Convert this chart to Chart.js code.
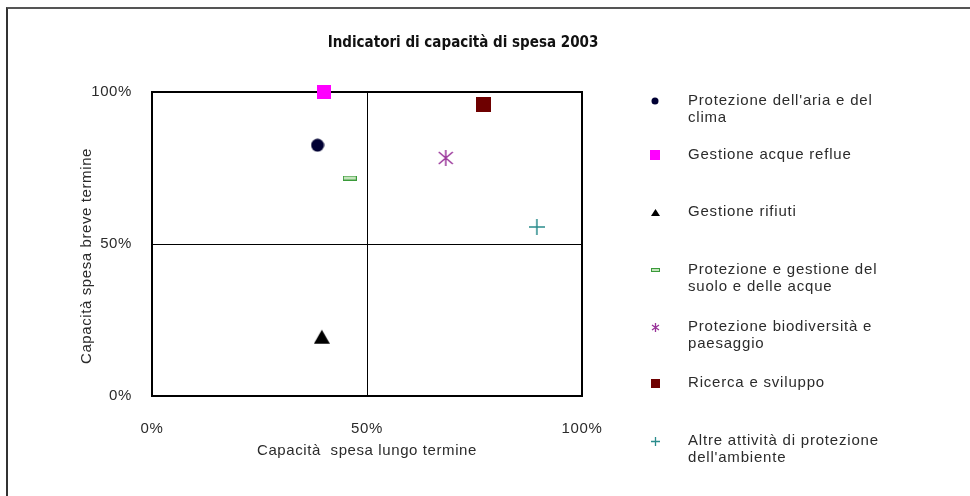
<!DOCTYPE html>
<html>
<head>
<meta charset="utf-8">
<script src="https://cdn.jsdelivr.net/npm/chart.js@4/dist/chart.umd.min.js"></script>
<style>
  body { margin: 0; background: #fff; }
  #wrap { position: relative; width: 970px; height: 496px; }
  #frame { position: absolute; left: 6px; top: 7px; right: 0; bottom: 0;
           border-left: 2px solid #333; border-top: 2px solid #555; pointer-events: none; }
</style>
</head>
<body>
<div id="wrap">
  <canvas id="chart" width="970" height="496"></canvas>
  <div id="frame"></div>
</div>
<script>
// chart data
const chartTitle = 'Indicatori di capacità di spesa 2003';
const seriesNames = [
  "Protezione dell'aria e del\nclima",
  'Gestione acque reflue',
  'Gestione rifiuti',
  'Protezione e gestione del\nsuolo e delle acque',
  'Protezione biodiversità e\npaesaggio',
  'Ricerca e sviluppo',
  'Altre attività di protezione\ndell\'ambiente'
];
const xValues = [0.385, 0.40, 0.395, 0.46, 0.683, 0.77, 0.895];
const yValues = [0.825, 1.00, 0.195, 0.717, 0.783, 0.96, 0.556];
const tickLabels = ['0%', '50%', '100%'];
const xTitle = 'Capacità  spesa lungo termine';
const yTitle = 'Capacità spesa breve termine';

// look of each series
const markerKinds = ['circle', 'square', 'triangle', 'dash', 'star', 'square', 'plus'];
const markerColors = ['#000033', '#ff00ff', '#000000', '#3a9a3a', '#993399', '#6e0000', '#2a8c8c'];
const plotSizes = [14, 14, 16, 14, 16, 15, 16];
const legendSizes = [8, 10, 9, 9, 9, 9, 9];
const legendRowY = [101, 155, 212, 270, 327, 383, 441];

const FONT = '"Liberation Sans", Arial, sans-serif';
const TEXT = '#2b2b2b';

// draws one marker into its own little canvas, so Chart.js can use it as pointStyle
function makeMarker(kind, size, color) {
  const c = document.createElement('canvas');
  const w = size, h = kind === 'dash' ? Math.max(4, Math.round(size / 3)) : size;
  c.width = w; c.height = h;
  const g = c.getContext('2d');
  g.fillStyle = color; g.strokeStyle = color;
  if (kind === 'circle') {
    g.beginPath(); g.arc(w / 2, h / 2, w / 2 - 0.5, 0, Math.PI * 2); g.fill();
  } else if (kind === 'square') {
    g.fillRect(0, 0, w, h);
  } else if (kind === 'triangle') {
    g.beginPath(); g.moveTo(w / 2, 1); g.lineTo(w, h - 1); g.lineTo(0, h - 1); g.closePath(); g.fill();
  } else if (kind === 'dash') {
    g.fillStyle = '#c4e4bc'; g.fillRect(0, 0, w, h);
    g.lineWidth = 1; g.strokeRect(0.5, 0.5, w - 1, h - 1);
  } else if (kind === 'star') {
    g.lineWidth = size > 10 ? 1.5 : 1.3;
    g.beginPath();
    g.moveTo(w / 2, 0); g.lineTo(w / 2, h);
    g.moveTo(1, 2); g.lineTo(w - 1, h - 2);
    g.moveTo(w - 1, 2); g.lineTo(1, h - 2);
    g.stroke();
  } else if (kind === 'plus') {
    g.lineWidth = size > 10 ? 1.5 : 1.3;
    g.beginPath();
    g.moveTo(w / 2, 0); g.lineTo(w / 2, h);
    g.moveTo(0, h / 2); g.lineTo(w, h / 2);
    g.stroke();
  }
  return c;
}

const plotMarkers = markerKinds.map((k, i) => makeMarker(k, plotSizes[i], markerColors[i]));
const legendMarkers = markerKinds.map((k, i) => makeMarker(k, legendSizes[i], markerColors[i]));

const datasets = seriesNames.map((name, i) => ({
  label: name.replace('\n', ' '),
  data: [{ x: xValues[i], y: yValues[i] }],
  pointStyle: plotMarkers[i],
  backgroundColor: markerColors[i],
  borderColor: markerColors[i],
  clip: false
}));

// wider letter spacing, like the old spreadsheet rendering
const spacing = {
  id: 'spacing',
  beforeDraw(chart) { chart.ctx.letterSpacing = '0.6px'; }
};

// frame of the plot area, drawn under the points
const plotBox = {
  id: 'plotBox',
  beforeDatasetsDraw(chart) {
    const a = chart.chartArea, ctx = chart.ctx;
    ctx.save();
    ctx.strokeStyle = '#000';
    ctx.lineWidth = 2;
    ctx.strokeRect(a.left, a.top, a.right - a.left, a.bottom - a.top);
    ctx.restore();
  }
};

// title, y title and legend at fixed places, like the original sheet
const sideText = {
  id: 'sideText',
  afterDraw(chart) {
    const ctx = chart.ctx;
    ctx.save();
    ctx.letterSpacing = '0px';
    ctx.fillStyle = '#111';
    ctx.font = 'bold 15px "Liberation Sans Narrow", "Arial Narrow", "DejaVu Sans Condensed", sans-serif';
    ctx.textAlign = 'center';
    ctx.textBaseline = 'middle';
    ctx.fillText(chartTitle, 463, 43);

    // y axis title sits a little below the plot centre in the original
    ctx.save();
    ctx.letterSpacing = '0.6px';
    ctx.font = '15px ' + FONT;
    ctx.fillStyle = TEXT;
    ctx.translate(87, chart.chartArea.top + (chart.chartArea.bottom - chart.chartArea.top) / 2 + 12);
    ctx.rotate(-Math.PI / 2);
    ctx.fillText(yTitle, 0, 0);
    ctx.restore();

    ctx.textAlign = 'left';
    ctx.letterSpacing = '0.8px';
    ctx.font = '15px ' + FONT;
    ctx.fillStyle = TEXT;
    seriesNames.forEach((name, i) => {
      const y = legendRowY[i];
      const m = legendMarkers[i];
      ctx.drawImage(m, Math.round(655 - m.width / 2), Math.round(y - m.height / 2));
      name.split('\n').forEach((line, k) => ctx.fillText(line, 688, y + k * 17));
    });
    ctx.restore();
  }
};

const midLine = c => (c.tick && c.tick.value === 0.5) ? '#000' : 'rgba(0,0,0,0)';

new Chart(document.getElementById('chart'), {
  type: 'scatter',
  data: { datasets },
  options: {
    responsive: false,
    animation: false,
    layout: { padding: { left: 75, right: 388, top: 92, bottom: 30 } },
    plugins: { legend: { display: false }, tooltip: { enabled: false }, title: { display: false } },
    scales: {
      x: {
        type: 'linear', min: 0, max: 1,
        afterFit: s => { s.height = 70; },
        border: { display: false },
        grid: { drawTicks: false, color: midLine, lineWidth: 1 },
        ticks: { stepSize: 0.5, autoSkip: false, maxRotation: 0, padding: 24, color: TEXT,
                 font: { family: FONT, size: 15 }, callback: (v, i) => tickLabels[i] },
        title: { display: true, text: xTitle, color: TEXT, font: { family: FONT, size: 15 },
                 padding: { top: 0, bottom: 6 } }
      },
      y: {
        type: 'linear', min: 0, max: 1,
        afterFit: s => { s.width = 77; },
        border: { display: false },
        grid: { drawTicks: false, color: midLine, lineWidth: 1 },
        ticks: { stepSize: 0.5, autoSkip: false, padding: 20, color: TEXT,
                 font: { family: FONT, size: 15 }, callback: (v, i) => tickLabels[i] },
        title: { display: false, text: yTitle }
      }
    }
  },
  plugins: [spacing, plotBox, sideText]
});
</script>
</body>
</html>
